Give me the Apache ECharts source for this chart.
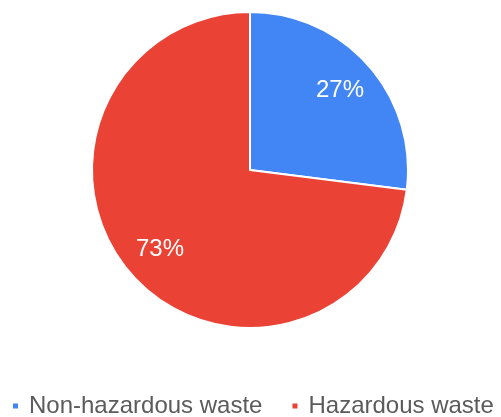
<!DOCTYPE html>
<html>
<head>
<meta charset="utf-8">
<script src="https://cdn.jsdelivr.net/npm/echarts@6/dist/echarts.min.js"></script>
<style>
  html, body { margin: 0; padding: 0; background: #fff; }
  #chart { width: 501px; height: 417px; }
</style>
</head>
<body>
<div id="chart"></div>
<script>
// Waste composition shares
const categories = ['Non-hazardous waste', 'Hazardous waste'];
const shares = [27, 73];
const colors = ['#4285F4', '#EA4335'];

const pieData = categories.map((name, i) => ({
  name: name,
  value: shares[i],
  itemStyle: { color: colors[i] }
}));

const chart = echarts.init(document.getElementById('chart'), null, { renderer: 'canvas' });

chart.setOption({
  animation: false,
  legend: {
    data: categories,
    top: 389,
    left: 6,
    padding: 5,
    icon: 'rect',
    itemWidth: 7,
    itemHeight: 7,
    itemGap: 28,
    textStyle: {
      fontFamily: 'Liberation Sans, Arial, sans-serif',
      fontSize: 24,
      color: '#5b5b5b',
      padding: [0, 0, 0, 5]
    }
  },
  series: [
    {
      type: 'pie',
      center: [250, 170],
      radius: [0, 158],
      startAngle: 90,
      clockwise: true,
      label: { show: false },
      labelLine: { show: false },
      itemStyle: { borderColor: '#ffffff', borderWidth: 2 },
      emphasis: { disabled: true },
      data: pieData
    },
    {
      // transparent ring used only to place percentage labels further out
      type: 'pie',
      center: [250, 170],
      radius: [76, 158],
      startAngle: 90,
      clockwise: true,
      silent: true,
      legendHoverLink: false,
      itemStyle: { color: 'rgba(0,0,0,0)', borderWidth: 0 },
      emphasis: { disabled: true },
      label: {
        show: true,
        position: 'inside',
        formatter: p => p.value + '%',
        color: '#ffffff',
        fontFamily: 'Liberation Sans, Arial, sans-serif',
        fontSize: 24
      },
      labelLine: { show: false },
      data: categories.map((name, i) => ({ name: name, value: shares[i] }))
    }
  ]
});
</script>
</body>
</html>
